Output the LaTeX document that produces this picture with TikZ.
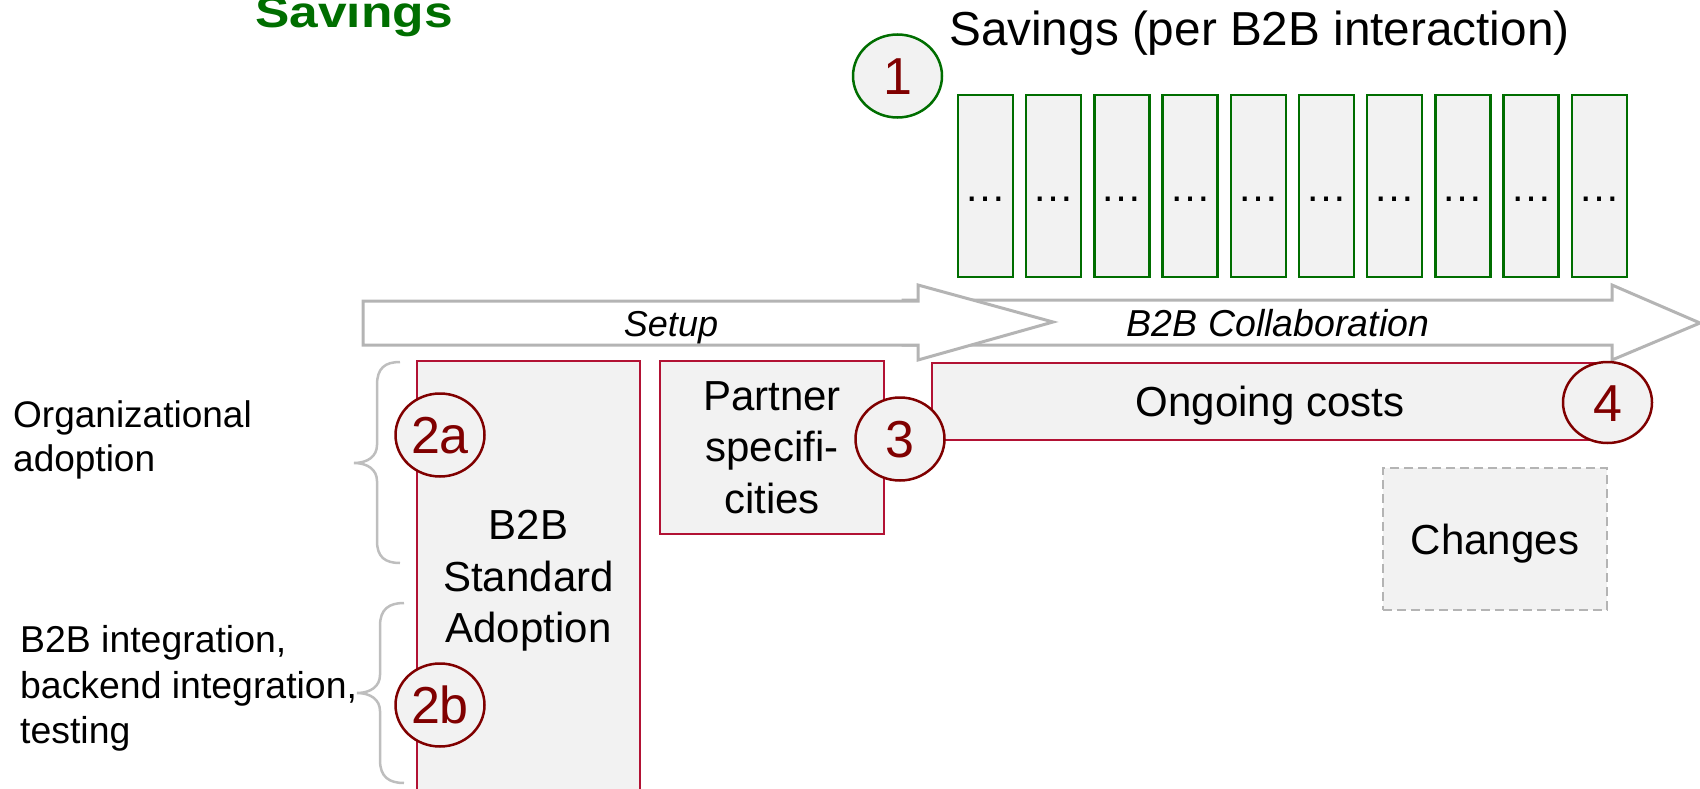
\documentclass[tikz,border=0pt]{standalone}
\usepackage{graphicx}
\usepackage{fontspec}
\setmainfont{Liberation Sans}
\usetikzlibrary{shapes.geometric}

\definecolor{boxfill}{HTML}{F2F2F2}
\definecolor{savegreen}{RGB}{0,110,0}
\definecolor{costred}{RGB}{178,18,52}
\definecolor{markred}{RGB}{128,0,0}
\definecolor{arrowgray}{RGB}{180,180,180}
\definecolor{bracegray}{RGB}{190,190,190}

\begin{document}
\begin{tikzpicture}[x=1pt,y=-1pt,
  savebox/.style={draw=savegreen, line width=2.5pt, fill=boxfill,
    minimum width=55pt, minimum height=182pt, inner sep=0pt,
    font=\fontsize{42pt}{50pt}\selectfont, text height=30pt, text depth=0pt},
  costbox/.style={draw=costred, line width=2pt, fill=boxfill, inner sep=0pt,
    font=\fontsize{42pt}{51.5pt}\selectfont, align=center},
  marker/.style={ellipse, draw=markred, line width=2.5pt, fill=boxfill,
    minimum width=89pt, minimum height=83pt, inner sep=0pt, text=markred,
    font=\fontsize{52pt}{60pt}\selectfont, text height=37pt, text depth=0pt},
  phase/.style={draw=arrowgray, line width=3pt, fill=white},
  phaselabel/.style={inner sep=0pt, font=\fontsize{36pt}{43pt}\selectfont\itshape,
    text height=26pt, text depth=0pt},
  brace/.style={draw=bracegray, line width=2.5pt},
  sidelabel/.style={anchor=north west, inner sep=0pt, align=left}
]
\useasboundingbox (0,0) rectangle (1700,789);
\clip (0,0) rectangle (1700,789);

% section heading
\node[anchor=base west, inner sep=0pt, text=savegreen,
  font=\fontsize{44pt}{50pt}\selectfont\bfseries] (heading) at (255,28)
  {\scalebox{1.17}[1]{Savings}};

% phase arrows: collaboration behind, setup in front
\draw[phase] (903,300) -- (1612,300) -- (1612,285) -- (1700,323)
  -- (1612,360) -- (1612,345) -- (903,345) -- cycle;
\node[phaselabel, font=\fontsize{37.5pt}{43pt}\selectfont\itshape]
  (collablabel) at (1278,323) {B2B Collaboration};
\draw[phase] (363,301) -- (918,301) -- (918,285) -- (1053,322)
  -- (918,360) -- (918,345) -- (363,345) -- cycle;
\node[phaselabel] (setuplabel) at (671,323) {Setup};

% savings per interaction
\node[anchor=base west, inner sep=0pt, font=\fontsize{47.7pt}{56pt}\selectfont]
  (savingstitle) at (949,46) {Savings (per B2B interaction)};
\foreach \k in {0,...,9}{
  \node[savebox] (interaction\k) at ({985.5+68.2*\k},186) {…};
}

% cost blocks
\node[costbox, minimum width=223pt, minimum height=440pt] (adoption)
  at (528.5,581) {B2B\\Standard\\Adoption};
\node[costbox, minimum width=224pt, minimum height=173pt] (partner)
  at (772,447.5) {Partner\\specifi-\\cities};
\node[costbox, minimum width=676pt, minimum height=77pt, text height=30pt,
  text depth=0pt] (ongoing) at (1270,401.5) {Ongoing costs};
\node[draw=arrowgray, dash pattern=on 9pt off 5pt, line width=2pt, fill=boxfill,
  minimum width=224pt, minimum height=142pt, inner sep=0pt,
  font=\fontsize{42pt}{50pt}\selectfont, text height=30pt, text depth=0pt]
  (changes) at (1495,539) {Changes};

% braces and their labels
\draw[brace] (400,362) .. controls (385,362) and (377,368) .. (377,385)
  -- (377,445) .. controls (377,456) and (368,463) .. (354,463)
  .. controls (368,463) and (377,470) .. (377,481)
  -- (377,541) .. controls (377,557) and (385,563) .. (400,563);
\draw[brace] (404,603) .. controls (389,603) and (380,609) .. (380,626)
  -- (380,675) .. controls (380,686) and (371,693) .. (357,693)
  .. controls (371,693) and (380,700) .. (380,711)
  -- (380,760) .. controls (380,777) and (389,783) .. (404,783);
\node[sidelabel, font=\fontsize{37pt}{44pt}\selectfont] (orglabel)
  at (13,400.5) {Organizational\\adoption};
\node[sidelabel, font=\fontsize{37.4pt}{45.5pt}\selectfont] (intlabel)
  at (20,625.5) {B2B integration,\\backend integration,\\testing};

% numbered markers
\node[marker, draw=savegreen] (m1) at (897.5,76) {1};
\node[marker] (m2a) at (440,435) {2a};
\node[marker] (m2b) at (440,705) {2b};
\node[marker] (m3) at (900,439) {3};
\node[marker, minimum height=81pt] (m4) at (1607.5,402.5) {4};
\end{tikzpicture}
\end{document}
